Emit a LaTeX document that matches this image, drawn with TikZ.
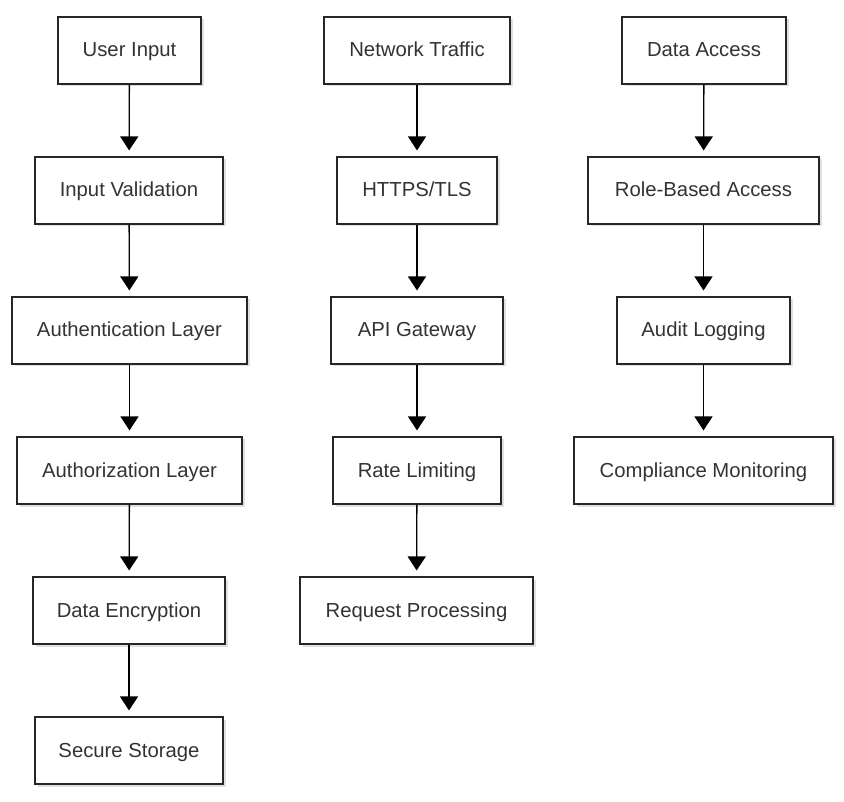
\documentclass[tikz,border=0pt]{standalone}
\usepackage{fontspec}
\setmainfont{Liberation Sans}
\usetikzlibrary{arrows.meta,shadows}
\begin{document}
\begin{tikzpicture}[x=1pt,y=-1pt,
  box/.style={draw=black!85, line width=1.1pt, fill=white, minimum height=67pt, inner sep=0pt,
    text=black!80, font=\fontsize{20.3}{23}\selectfont, text height=14.5pt, text depth=1.5pt,
    drop shadow={shadow xshift=2.5pt, shadow yshift=-2.5pt, fill=black, opacity=0.12}},
  conn/.style={line width=1.3pt, -{Triangle[width=18pt,length=14pt]}, shorten >=6pt}]
\useasboundingbox (0,0) rectangle (844,802);
% column 1
\node[box, minimum width=143pt] (ui) at (129.5,50.5) {User Input};
\node[box, minimum width=188pt] (iv) at (129,190.5) {Input Validation};
\node[box, minimum width=235pt] (al) at (129.5,330.5) {Authentication Layer};
\node[box, minimum width=225pt] (az) at (129.5,470.5) {Authorization Layer};
\node[box, minimum width=192pt] (de) at (129,610.5) {Data Encryption};
\node[box, minimum width=188pt] (ss) at (129,750.5) {Secure Storage};
% column 2
\node[box, minimum width=186pt] (nt) at (417,50.5) {Network Traffic};
\node[box, minimum width=160pt] (ht) at (417,190.5) {HTTPS/TLS};
\node[box, minimum width=172pt] (ag) at (417,330.5) {API Gateway};
\node[box, minimum width=168pt] (rl) at (417,470.5) {Rate Limiting};
\node[box, minimum width=233pt] (rp) at (416.5,610.5) {Request Processing};
% column 3
\node[box, minimum width=164pt] (da) at (704,50.5) {Data Access};
\node[box, minimum width=231pt] (rb) at (703.5,190.5) {Role-Based Access};
\node[box, minimum width=173pt] (au) at (703.5,330.5) {Audit Logging};
\node[box, minimum width=259pt] (cm) at (703.5,470.5) {Compliance Monitoring};
% connectors
\draw[conn] (ui) -- (iv);
\draw[conn] (iv) -- (al);
\draw[conn] (al) -- (az);
\draw[conn] (az) -- (de);
\draw[conn] (de) -- (ss);
\draw[conn] (nt) -- (ht);
\draw[conn] (ht) -- (ag);
\draw[conn] (ag) -- (rl);
\draw[conn] (rl) -- (rp);
\draw[conn] (da) -- (rb);
\draw[conn] (rb) -- (au);
\draw[conn] (au) -- (cm);
\end{tikzpicture}
\end{document}
